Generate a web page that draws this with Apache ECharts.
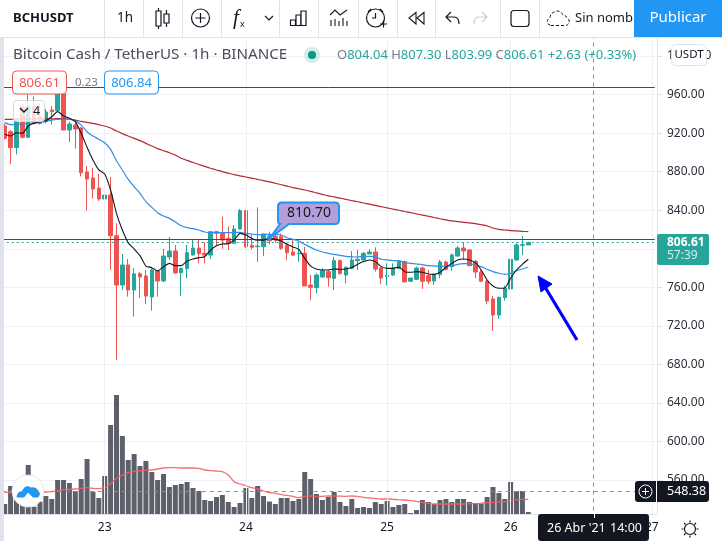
<!DOCTYPE html>
<html><head><meta charset="utf-8">
<style>html,body{margin:0;padding:0;background:#fff}#c{width:722px;height:541px}</style>
<script src="https://cdn.jsdelivr.net/npm/echarts@6/dist/echarts.min.js"></script>
</head><body><div id="c"></div>
<script>
const dayLabels = {17:'23',41:'24',65:'25',86:'26',110:'27'};
const slotCount = 111;
const opens  = [927.4,921.5,905,947.5,915.7,948,937,932,944,943.3,960.6,923.3,928.4,925.3,879.7,873.5,863,
 851.7,855.8,813.6,762.4,783.2,757.2,774,771.8,750,777,766.6,791.5,797.7,775.2,779.4,793.5,800.8,795.3,793.5,817.8,816,810.8,805.7,820.5,839.6,803.6,802.2,802.2,812.6,812.6,812.6,803.2,796.7,794.6,795.3,762.4,759.7,770.7,776.3,769.3,787.7,772.8,
 779.7,787.7,788.4,794.6,796.7,780.1,771.1,772.8,779.4,786.7,766.3,768.3,780.1,772.1,766.6,773.2,786.3,781.5,792.5,800.8,798.8,787,775.9,766.3,747.9,731.3,749.3,758.3,788.4,803.6,804.04];
const closes = [914.6,905,933,915.7,948,930,930,942,942.3,960.6,923.3,929.5,924.3,879,872.4,862,851.7,
 855.8,813.6,762.4,783.2,757.2,774,770.7,751,778,766.6,792.5,797.7,775,779.7,796,800.8,794.9,793.5,817.8,816,809,805.7,820.5,839.6,802.2,801.5,802.9,815.3,808.4,809,800.5,796,793.5,795.3,761.4,760,772.8,777.3,770,787.7,774.5,780.7,
 788.4,789.1,795.3,796.7,779,769.7,772.5,779.4,786.7,765.6,769.7,780.1,766.3,766.3,773.2,786.3,778.7,793.6,800.8,797.7,782.5,775.9,766.3,745.8,731.3,749.6,759,789.1,804,804.3,806.61];
const highs  = [930,923.3,935.4,951,960,958,951,945,948,961,961,932,933.6,926.5,885.9,883.8,877.6,
 870.7,874.5,826.4,794.6,789.4,780,776,778,780,778,799.8,812.2,804,780.4,803.9,809,809,806.7,817.8,818.5,833.3,823,824.7,841.3,840,814.3,843,815.5,817.8,815.3,816,805.7,809,805.7,802,772.8,774.5,779.7,778,791.8,789,782,
 797.7,798.8,797,799.5,801.5,781.5,784.9,784.9,788.4,787.7,769.7,781.5,781.5,778,774.6,788.4,787.7,795.3,803,806.7,799.5,788.4,778,767.6,751,750.3,761.8,798.8,806.4,813.3,807.3];
const lows   = [913.5,888,898,914.5,915,929,929,930,929,943,923,910.8,903.9,875,839.6,852,849.6,
 841.3,778,684.6,757.2,750.3,729.6,749,742.7,735.8,750.3,765.5,788.4,774,751,769.3,793,784.9,784.9,789.4,803.9,800.1,798.7,805.7,820,800.5,799.4,786.6,792.5,804.6,806.3,798.7,788.4,792.5,786.6,761.4,746.9,753.8,770,760.7,757.2,772.8,764.1,
 778.7,778,787.7,794.6,776.3,763.5,761.8,771.8,778.7,765.6,765.6,767.6,758.3,763.5,762.4,769.4,777.3,777,791.9,788.4,782,769.7,765.6,742.4,714.7,727.2,746.2,749.6,787.7,793.6,803.99];
const maBlack = [918.8,917,920.5,919.8,927.4,930.2,931.9,933,937,942.3,937.8,935.4,931.9,919.8,905.3,892.1,881.8,
 877.6,861,836.8,819.5,806.3,799.8,792.9,782.1,780.4,777,781.4,784.9,782.5,782.5,787.3,789.4,790.8,791.8,798.7,803.2,805,805.3,809,816,814.3,810.8,808.8,809,810.8,809.8,808,804.6,801.9,799.4,790,782.1,779,778,778,779,778.7,779,
 780.5,783.9,786.7,788.4,786.7,781.5,779.7,779.7,781.1,776.3,775.6,776.3,775.6,773.9,773.5,775.6,780.8,784.9,788.4,789.4,788.4,785.6,778,767.6,761.4,759,759.3,769.4,778,783.9,789.1];
const maBlue = [930.9,928.8,928.8,929.5,930.2,930.5,931.2,932.2,933.6,934.3,934.7,934.3,933,928.4,921.5,917,913.6,
 910.1,903.2,891.4,881.8,872,864.5,857.5,848.9,843,837.5,834,831.6,828,824,821.9,820.9,819.5,817.4,816.7,816.7,816.7,816.7,817,817,816,815.3,814.6,815,815,815,814.3,811.5,809.8,808,804.6,801.5,798.7,796.7,795.3,794.2,793.2,792.2,
 791.7,791.5,792.2,792.2,791.9,789.1,788.4,787.7,787.7,785.6,784.9,784.2,783.5,782.5,782.2,781.8,781.8,782.2,783.9,784.6,784.6,783.2,781.5,778.7,776.3,774.6,773.5,774.6,777.3,779,781.1];
const maRed = [934.3,934.4,934.5,934.5,934.6,934.7,934.8,934.8,934.9,935,935,934.5,933.6,932.2,931.2,930.2,928.8,
 927.4,925.3,922.2,919.5,917,914.6,912.2,909.4,906.7,903.9,901.8,899.7,897.3,893.9,891.8,889.5,887.5,885.5,883.6,881.8,880,878.5,877,875.7,874.5,873.3,872,870.8,869.5,868,866.5,865,863.5,862.3,861,859.6,858,856.5,855,853.8,852.5,851.3,
 850,848.8,847.5,846.3,845,843.7,842.5,841.2,840,838.7,837.5,836.2,835,833.8,832.5,831.2,830,828.9,828.2,827.5,826.8,826.1,825,823.7,821.6,820.2,819.5,818.8,818.5,818.1,817.8];
const volumes = [10,28,16,12.3,49,7.3,12.3,18,15,34,34,31,23,35,55,22.3,16,
 38,89,119,78,54,60,48,53,42,34,40,27,29,30,32,26,23,14,13,17,19,12,7,11,26,16,28,18,12.5,10,16,16,13,15,42,35,20,14,17,22,12,8,
 15,6,7,6,12,10,13,7,9,10,1,4,14,12,10,14,15,12,15,15,12,11,10,17,27,21,15,32,23,23,2];
const volumeMA = [21.7,21.7,21,21,21,21,21.5,22,22.3,23.3,24.3,24.7,25,25.7,26.3,25.7,25.3,
 26.3,30.3,35.7,39,41.3,42.7,43.3,43.7,44,45,46,46.3,46.3,46,46,46,45.7,44,43.3,43,42.3,39,32.3,30,28.3,26.3,25,23,21.5,20.7,19.3,18.7,17.7,16.3,17.7,18,17.7,17.7,18,18,17.8,17.7,
 18,17.7,16.7,16,15.3,15,15,14.7,14.3,14,13.3,12.7,11.7,10.7,10,10,10,10,10,10,10.3,10.3,10.7,11.3,11.7,12,12.3,13.3,14.3,14.7,14.7];
const priceTicks = {min:520,max:1020,step:40};
const drawnLines = [968,809.6];
const lastClose = 806.61, crossPrice = 548.38, crossSlot = 100;

const UI = '"Noto Sans",sans-serif', INK='#131722', LINE='#e0e3eb', UP='#26a69a', DN='#ef5350';
const categories = Array.from({length:slotCount},(_,k)=>dayLabels[k]||'');
const ohlc = opens.map((o,i)=>[o,closes[i],lows[i],highs[i]]);

const Z=50;
let pathId=0;
const T=(x,y,text,fs,fill,extra={})=>({type:'text',z:Z+2,x,y,style:Object.assign({text,font:`${extra.weight||'normal'} ${fs}px ${UI}`,fill,align:extra.align||'left',verticalAlign:'middle'},extra.style||{})});
const R=(x,y,w,h,fill,stroke,r=0,lw=1,z=Z)=>({type:'rect',z,shape:{x,y,width:w,height:h,r},style:{fill,stroke:stroke||null,lineWidth:lw}});
const P=(d,stroke,lw=1.3,fill='none',extra={})=>{const name='icon'+(pathId++);
  echarts.graphic.registerShape(name,echarts.graphic.extendPath(d));
  return {type:name,z:Z+2,style:Object.assign({fill,stroke,lineWidth:lw},extra)};};
const C=(cx,cy,r,fill,stroke,lw=1,z=Z+2)=>({type:'circle',z,shape:{cx,cy,r},style:{fill,stroke,lineWidth:lw}});
const VL=(x)=>R(x,0,1,37,LINE,null,0,0,Z+1);

const chrome=[
 R(0,0,722,37,'#fff'),R(0,37,722,1,LINE,null,0,0,Z+1),R(0,37,4,504,LINE,null,0,0,Z),
 R(4,514.5,660,5,'#fff',null,0,0,Z),R(4,514,653,1,LINE,null,0,0,Z+1),
 VL(104),VL(143),VL(182),VL(221),VL(279),VL(318),VL(358),VL(397),VL(435),VL(500),VL(539),
 T(13,18,'BCHUSDT',13,INK,{weight:'bold'}),T(117,18,'1h',13.5,INK),
 P('M158.5 8V29M166.5 10V27',INK,1.2),R(156,11,5,15,'#fff',INK,0,1.2,Z+2),R(164,14,5,9,'#fff',INK,0,1.2,Z+2),
 C(200.5,18,9,'#fff',INK,1.2),P('M195.5 18H205.5M200.5 13V23',INK,1.2),
 T(233,18,'f',21,INK,{style:{font:`italic 21px "Liberation Serif"`}}),T(240,24,'x',9,INK),
 P('M265 16L269 20L273 16',INK,1.2),
 R(290.5,20,5,5.5,'#fff',INK,0,1.2,Z+2),R(296,15,5,10.5,'#fff',INK,0,1.2,Z+2),R(301,11,5,14.5,'#fff',INK,0,1.2,Z+2),
 P('M330 15L335 10L340 15L347 10M331 20V26M335 19V26M339 21V26M343 18V26M347 21V26',INK,1.1),
 C(375.5,18,9,'#fff',INK,1.2),P('M368 12L371 9M383 12L380 9M375.5 13V18H372M380 24H387M383.5 20.5V27.5',INK,1.2),
 P('M416 12.5V24L409 18ZM424 12.5V24L417 18Z',INK,1.1),
 P('M451 12L446 17L451 22M446 17H454Q459 17 459 24',INK,1.2),
 P('M482 12L487 17L482 22M487 17H479Q474 17 474 24','#c8cbd2',1.2),
 R(511,10.5,18,16,'#fff',INK,3,1.2,Z+2),
 P('M551 25.5H566Q570 24 569 20Q567 16 563 15Q560 9 554 12Q550 14 550 18Q546 20 548 24Z',INK,1,'none',{lineDash:[3,2]}),
 T(575,18,'Sin nombr',13,INK),
 R(634,0,88,37,'#2196f3',null,0,0,Z+3),
 Object.assign(T(678,18,'Publicar',15,'#fff',{align:'center'}),{z:Z+4}),
 T(13,55,'Bitcoin Cash / TetherUS · 1h · BINANCE',15.2,'#4a4e59'),
 C(312,55,8,'#d5ede9','none',0),C(312,55,4,'#089981','none',0),
 {type:'text',z:Z+2,x:337,y:55,style:{text:'{g|O}{v|804.04} {g|H}{v|807.30} {g|L}{v|803.99} {g|C}{v|806.61} {v|+2.63 (+0.33%)}',verticalAlign:'middle',
   rich:{g:{fill:'#787b86',font:`13px ${UI}`},v:{fill:UP,font:`13px ${UI}`}}}},
 R(12.5,71,54,23,'#fff',DN,4,1,Z+1),T(39.5,83,'806.61',13,DN,{align:'center'}),
 T(75,82.5,'0.23',11.5,'#787b86'),
 R(104.5,71,54,23,'#fff','#2196f3',4,1,Z+1),T(131.5,83,'806.84',13,'#2196f3',{align:'center'}),
 R(13.5,100.5,31,21,'rgba(255,255,255,0.8)','#d6d8de',3,1,Z+1),P('M20 108L24 112L28 108',INK,1.4),T(33,111,'4',12.5,INK),
 R(671.5,44.5,35,21,'#fff',LINE,4,1,Z+1),T(689,55,'USDT',11.5,INK,{align:'center'}),
 R(657,234,52,31,'#26a69a',null,2,0,Z+1),T(667,243,'806.61',12,'#fff',{weight:'bold'}),T(667,256,'57:39',12,'#d4eeea'),
 R(635,481,74,21,'#131722',null,3,0,Z+1),C(645.5,491.5,6.5,'#131722','#fff',1),P('M642 491.5H649M645.5 488V495','#fff',1),
 R(656,481,1,21,'#fff',null,0,0,Z+2),T(667,491.5,'548.38',12.5,'#fff'),
 R(538,514,111,27,'#131722',null,3,0,Z+1),T(547,528.5,"26 Abr '21",12.5,'#fff'),T(610,528.5,'14:00',12.5,'#fff'),
 R(594,514,1,4,'#fff',null,0,0,Z+2),
 C(690,529,5.5,'#fff',INK,1.2),P('M690 520.5V522.5M690 535.5V537.5M681.5 529H683.5M696.5 529H698.5M684 523L685.5 524.5M694.5 533.5L696 535M684 535L685.5 533.5M694.5 524.5L696 523',INK,1.2),
 C(28,491,16,'#fff','#e6e7ea',1),
 P('M17 497Q18 491 22 492Q25 484 31 488Q36 487 38 491Q41 494 38 497L33 497L28 492L24 497Z','#2196f3',1,'#2196f3'),
 P('M282 202.5H335Q339 202.5 339 206.5V220Q339 224 335 224H289L270 238L280 224Q278 224 278 220V206.5Q278 202.5 282 202.5Z','#2196f3',2,'#b39ddb'),
 T(309,213,'810.70',14,INK,{align:'center'}),
 C(269.5,237.5,2.5,'#2196f3','none',0),
 P('M577 340L545 287','#0000ff',3.2),P('M538 276L552 284L541 292Z','#0000ff',1,'#0000ff')
];

const chart=echarts.init(document.getElementById('c'),null,{renderer:'canvas'});
chart.setOption({
 animation:false,backgroundColor:'#fff',
 grid:{left:1.76,top:36.8,width:653.01,height:481.8,containLabel:false},
 xAxis:{type:'category',data:categories,boundaryGap:true,
   axisLine:{show:false},axisTick:{show:false},splitLine:{show:false},
   axisLabel:{interval:0,margin:3,color:INK,fontSize:12,fontFamily:UI,hideOverlap:false}},
 yAxis:[
  {type:'value',position:'right',offset:2.2,min:priceTicks.min,max:priceTicks.max,interval:priceTicks.step,
   axisLine:{show:true,lineStyle:{color:LINE}},axisTick:{show:true,length:6,lineStyle:{color:LINE}},
   splitLine:{show:true,lineStyle:{color:'#eef0f5',width:1}},
   axisLabel:{margin:10,color:'#2a2e39',fontSize:12,fontFamily:UI,formatter:v=>(v<=520||v>=1020)?'':v.toFixed(2)}},
  {type:'value',show:false,min:-4.6,max:477.2,splitLine:{show:false}}
 ],
 series:[
  {type:'line',data:[],silent:true,z:1,markLine:{silent:true,symbol:'none',label:{show:false},
    lineStyle:{color:'#eef0f5',width:1,type:'solid'},data:Object.keys(dayLabels).map(k=>({xAxis:+k}))}},
  {name:'Volume',type:'bar',yAxisIndex:1,data:volumes,barWidth:5,itemStyle:{color:'#5d606b'},z:2,silent:true},
  {name:'Volume MA',type:'line',yAxisIndex:1,data:volumeMA,showSymbol:false,smooth:0.2,lineStyle:{color:'#f4615e',width:1.3,opacity:.9},z:3,silent:true},
  {name:'Price',type:'candlestick',data:ohlc,barWidth:4,z:4,silent:true,
    itemStyle:{color:UP,color0:DN,borderColor:UP,borderColor0:DN,borderWidth:1},
    markLine:{silent:true,symbol:'none',label:{show:false},data:[
      {yAxis:drawnLines[0],lineStyle:{color:'#a8231f',width:1,type:'solid'}},
      {yAxis:drawnLines[1],lineStyle:{color:'#a8231f',width:1,type:'solid'}},
      {yAxis:lastClose,lineStyle:{color:'#26a69a',width:1.2,type:[2,3]}},
      {yAxis:crossPrice,lineStyle:{color:'#8a8f9c',width:1,type:[4,4]}},
      {xAxis:crossSlot,lineStyle:{color:'#8a8f9c',width:1,type:[4,4]}}
    ]}},
  {name:'MA slow',type:'line',data:maRed,showSymbol:false,smooth:0.2,lineStyle:{color:'#b22833',width:1.2},z:5,silent:true},
  {name:'MA mid',type:'line',data:maBlue,showSymbol:false,smooth:0.2,lineStyle:{color:'#2d8fe8',width:1.2},z:5,silent:true},
  {name:'MA fast',type:'line',data:maBlack,showSymbol:false,smooth:0.2,lineStyle:{color:'#131722',width:1.1},z:6,silent:true}
 ],
 graphic:{elements:chrome}
});
</script></body></html>
